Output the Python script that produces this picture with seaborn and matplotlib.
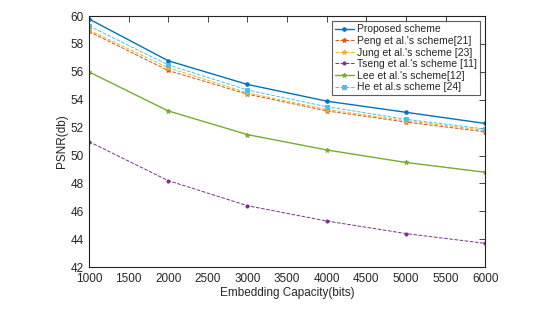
import pandas as pd
import matplotlib
matplotlib.use('Agg')
import matplotlib.pyplot as plt
import seaborn as sns

# Dados
capacity = [1000, 2000, 3000, 4000, 5000, 6000]
proposed = [59.8, 56.8, 55.1, 53.9, 53.1, 52.3]
peng = [58.9, 56.1, 54.4, 53.2, 52.4, 51.7]
jung = [59.0, 56.3, 54.5, 53.3, 52.5, 51.8]
tseng = [51.0, 48.2, 46.4, 45.3, 44.4, 43.7]
lee = [56.0, 53.2, 51.5, 50.4, 49.5, 48.8]
he = [59.3, 56.5, 54.7, 53.5, 52.6, 51.9]

series_names = ['Proposed scheme', "Peng et al.'s scheme[21]", "Jung et al.'s scheme [23]",
                "Tseng et al.'s scheme [11]", "Lee et al.'s scheme[12]", 'He et al.s scheme [24]']
series_values = [proposed, peng, jung, tseng, lee, he]

rows = []
for name, vals in zip(series_names, series_values):
    for x, y in zip(capacity, vals):
        rows.append({'Capacity': x, 'PSNR': y, 'Scheme': name})
df = pd.DataFrame(rows)

sns.set_style('white')
plt.rcParams['font.family'] = ['Liberation Sans', 'DejaVu Sans']

cores = ['#0072BD', '#D95319', '#EDB120', '#7E2F8E', '#77AC30', '#4DBEEE']
estilos = ['-', '--', '--', '--', '-', '--']
marcadores = ['o', '*', '*', 'o', '*', 's']
tamanhos = [2.5, 3.5, 3.5, 2.2, 3.5, 2.5]

fig = plt.figure(figsize=(5.52, 3.16), dpi=100)
ax = fig.add_axes([0.161, 0.155, 0.718, 0.794])

for name, cor, ls, mk, ms in zip(series_names, cores, estilos, marcadores, tamanhos):
    sub = df[df['Scheme'] == name]
    sns.lineplot(data=sub, x='Capacity', y='PSNR', ax=ax, color=cor, linestyle=ls,
                 marker=mk, markersize=ms, linewidth=1.0 if ls == '-' else 0.7,
                 markeredgecolor=cor, label=name)

ax.set_xlim(1000, 6000)
ax.set_ylim(42, 60)
ax.set_xticks(range(1000, 6001, 500))
ax.set_yticks(range(42, 61, 2))
ax.set_xlabel('Embedding Capacity(bits)', fontsize=8.5, labelpad=1)
ax.set_ylabel('PSNR(db)', fontsize=8.5, labelpad=2)
ax.tick_params(direction='in', top=True, right=True, labelsize=8.5, length=4, width=0.6, pad=3)
ax.tick_params(axis='x', pad=4.5)
ax.tick_params(axis='y', pad=3.5)
for s in ax.spines.values():
    s.set_linewidth(0.8)
    s.set_color('#222222')

leg = ax.legend(loc='upper right', fontsize=7.5, frameon=True, fancybox=False,
                borderpad=0.3, labelspacing=0.15, handlelength=1.8, handletextpad=0.3,
                borderaxespad=0.5)
leg.get_frame().set_edgecolor('#333333')
leg.get_frame().set_linewidth(0.8)

plt.savefig('out.png', dpi=100)
plt.close()
